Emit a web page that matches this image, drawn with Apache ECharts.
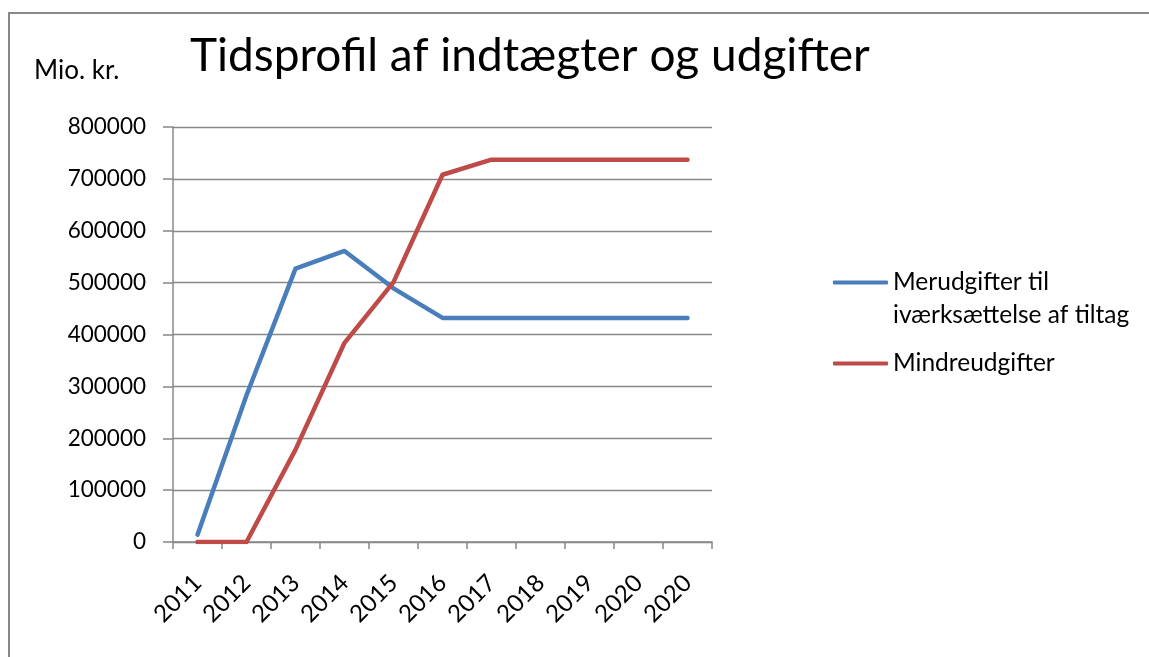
<!DOCTYPE html>
<html>
<head>
<meta charset="utf-8">
<style>
  html, body { margin: 0; padding: 0; background: #fff; }
  #main { width: 1149px; height: 657px; }
</style>
<script src="https://cdn.jsdelivr.net/npm/echarts@6/dist/echarts.min.js"></script>
</head>
<body>
<div id="main"></div>
<script>
// data
var years = ['2011', '2012', '2013', '2014', '2015', '2016', '2017', '2018', '2019', '2020', '2020'];
var merudgifter = [14000, 283000, 527000, 561000, 489000, 432000, 432000, 432000, 432000, 432000, 432000];
var mindreudgifter = [0, 0, 178000, 384000, 501000, 708000, 737000, 737000, 737000, 737000, 737000];
var yTicks = [0, 800000, 100000]; // min, max, step

var nameBlue = 'Merudgifter til\niværksættelse af tiltag';
var nameRed = 'Mindreudgifter';

var font = 'Lato, "Open Sans", sans-serif';
var grey = '#888888';

var myChart = echarts.init(document.getElementById('main'));

var option = {
    animation: false,
    textStyle: { fontFamily: font, color: '#000' },
    title: [
        {
            text: 'Tidsprofil af indtægter og udgifter',
            left: 185,
            top: 28,
            textStyle: { fontFamily: font, fontSize: 46, fontWeight: 'normal', color: '#000' }
        },
        {
            text: 'Mio. kr.',
            left: 29,
            top: 53,
            textStyle: { fontFamily: font, fontSize: 26, fontWeight: 'normal', color: '#000' }
        }
    ],
    legend: [
        {
            data: [nameBlue],
            left: 833,
            top: 233,
            padding: 0,
            icon: 'roundRect',
            itemWidth: 55,
            itemHeight: 4,
            // empty first line so the icon sits level with the first text line
            formatter: function (name) { return '\n' + name; },
            textStyle: { fontFamily: font, fontSize: 24.5, color: '#000', lineHeight: 33 }
        },
        {
            data: [nameRed],
            left: 833,
            top: 347,
            padding: 0,
            icon: 'roundRect',
            itemWidth: 55,
            itemHeight: 4,
            textStyle: { fontFamily: font, fontSize: 24.5, color: '#000', lineHeight: 33 }
        }
    ],
    grid: { left: 173, right: 437, top: 127, bottom: 115, containLabel: false },
    xAxis: {
        type: 'category',
        data: years,
        boundaryGap: true,
        axisLine: { lineStyle: { color: grey, width: 1.5 } },
        axisTick: { show: true, length: 7, lineStyle: { color: grey, width: 1.5 } },
        axisLabel: { rotate: 45, margin: 37, fontSize: 24, color: '#000', interval: 0 },
        splitLine: { show: false }
    },
    yAxis: {
        type: 'value',
        min: yTicks[0],
        max: yTicks[1],
        interval: yTicks[2],
        axisLine: { show: true, lineStyle: { color: grey, width: 1.5 } },
        axisTick: { show: true, length: 10, lineStyle: { color: grey, width: 1.5 } },
        axisLabel: { margin: 27, fontSize: 22.5, color: '#000', formatter: function (v) { return String(v); } },
        splitLine: { show: true, lineStyle: { color: grey, width: 1.3 } }
    },
    series: [
        {
            name: nameBlue,
            type: 'line',
            data: merudgifter,
            symbol: 'none',
            lineStyle: { color: '#4a7ebb', width: 4.5, cap: 'round', join: 'round' },
            itemStyle: { color: '#4a7ebb' }
        },
        {
            name: nameRed,
            type: 'line',
            data: mindreudgifter,
            symbol: 'none',
            lineStyle: { color: '#be4b48', width: 4.5, cap: 'round', join: 'round' },
            itemStyle: { color: '#be4b48' }
        }
    ],
    graphic: [
        {
            type: 'rect',
            shape: { x: 9, y: 13, width: 1300, height: 800 },
            style: { fill: 'none', stroke: grey, lineWidth: 2 },
            silent: true
        }
    ]
};

myChart.setOption(option);
</script>
</body>
</html>
